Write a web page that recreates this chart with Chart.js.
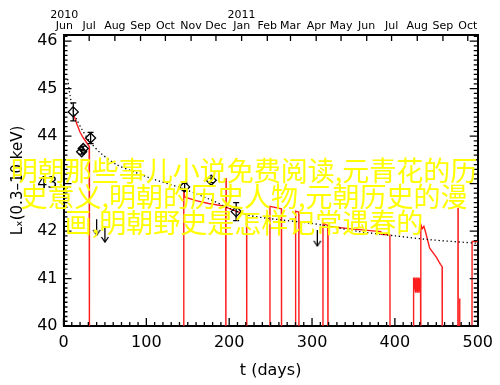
<!DOCTYPE html>
<html>
<head>
<meta charset="utf-8">
<script src="https://cdn.jsdelivr.net/npm/chart.js@4/dist/chart.umd.min.js"></script>
<style>
  html, body { margin: 0; padding: 0; background: #fff; }
  #wrap { position: relative; width: 500px; height: 385px; }
  #caption {
    position: absolute; left: 0; top: 157px; width: 488px;
    text-align: center; font-family: "Noto Sans CJK SC"; font-size: 27px;
    line-height: 26px; color: #ffff00;
  }
</style>
</head>
<body>
<div id="wrap">
  <canvas id="chart" width="500" height="385"></canvas>
  <div id="caption">明朝那些事儿小说免费阅读,元青花的历<br>史意义,明朝的历史人物,元朝历史的漫<br>画,明朝野史是怎样记常遇春的</div>
</div>
<script>
// dotted model curve
const modelDays = [5, 8, 11, 16, 22, 32, 45, 64, 85, 104, 143, 175, 204, 224, 260, 300, 357, 400, 441, 501];
const modelLum = [45.2, 44.85, 44.58, 44.35, 44.15, 43.88, 43.64, 43.4, 43.25, 43.12, 42.9, 42.68, 42.45, 42.33, 42.24, 42.16, 41.99, 41.9, 41.82, 41.74];

// red light curve (values below 40 are the drops to the floor)
const curveDays = [13, 16, 20, 24, 28, 31, 31.3,
  145, 145.2, 146, 160, 175, 195.8, 196, 196.2, 196.4, 208, 221, 221.2,
  249, 249.2, 263, 263.2, 280, 280.2, 284, 284.2,
  313, 313.2, 319, 319.2, 319.4, 350, 383, 383.5, 394, 394.2,
  422, 422.2, 423, 424, 425, 426, 427, 428, 429, 430, 431, 431.2,
  431.4, 433, 435, 437, 442, 450, 455, 457, 457.2,
  476, 476.2, 476.4, 478, 478.2, 478.4, 493, 493.2, 505];
const curveLum = [44.42, 44.26, 44.08, 43.96, 43.86, 43.78, 39,
  39, 42.9, 42.72, 42.64, 42.58, 42.52, 39, 43.12, 42.5, 42.42, 42.35, 39,
  39, 42.52, 42.47, 39, 39, 42.42, 42.4, 39,
  39, 42.16, 42.12, 39, 42.1, 42.04, 41.99, 41.93, 41.92, 39,
  39, 41.02, 40.7, 41.02, 40.7, 41.02, 40.7, 41.02, 40.7, 41.0, 40.7, 39,
  42.14, 42.05, 42.1, 41.98, 41.64, 41.45, 41.3, 41.25, 39,
  39, 42.49, 39, 39, 40.58, 39, 39, 41.78, 41.78];

// detections with error bars
const detDays = [11.8, 21.9, 23.8, 32.7, 146.2, 178.3, 208.4];
const detLum = [44.51, 43.67, 43.74, 43.96, 42.93, 43.07, 42.41];
const detErr = [0.19, 0.05, 0.05, 0.12, 0.08, 0.05, 0.19];

// upper limits
const limDays = [40, 50, 306.4];
const limLum = [42.25, 42.1, 42.02];

// axes
const xMajor = [0, 100, 200, 300, 400, 500];
const yMajor = [40, 41, 42, 43, 44, 45, 46];
const monthDays = [1, 31, 62, 93, 123, 154, 184, 215, 246, 274, 305, 335, 366, 396, 427, 458, 488];
const monthNames = ['Jun', 'Jul', 'Aug', 'Sep', 'Oct', 'Nov', 'Dec', 'Jan', 'Feb', 'Mar', 'Apr', 'May', 'Jun', 'Jul', 'Aug', 'Sep', 'Oct'];
const yearNames = ['2010', '', '', '', '', '', '', '2011', '', '', '', '', '', '', '', '', ''];

const LIM_LEN = 0.33;
const axisFont = { family: 'DejaVu Sans', size: 16 };

// open arrow head, tip at the centre of the image
const arrowHead = document.createElement('canvas');
arrowHead.width = 10;
arrowHead.height = 12;
(function () {
    const c = arrowHead.getContext('2d');
    c.strokeStyle = '#000';
    c.lineWidth = 1.3;
    c.beginPath();
    c.moveTo(1.5, 1);
    c.lineTo(5, 6);
    c.lineTo(8.5, 1);
    c.stroke();
})();

const errData = [];
detDays.forEach((d, i) => {
    errData.push({ x: d, y: detLum[i] - detErr[i] });
    errData.push({ x: d, y: detLum[i] + detErr[i] });
    errData.push({ x: d, y: null });
});
const limData = [];
limDays.forEach((d, i) => {
    limData.push({ x: d, y: limLum[i] });
    limData.push({ x: d, y: limLum[i] - LIM_LEN });
    limData.push({ x: d, y: null });
});

const innerTicks = {
    id: 'innerTicks',
    afterDraw(chart) {
        const { ctx, chartArea: a, scales } = chart;
        ctx.save();
        ctx.strokeStyle = '#000';
        ctx.lineWidth = 1.3;
        ctx.beginPath();
        for (let v = 0; v <= 500; v += 10) {
            const px = scales.x.getPixelForValue(v);
            const len = v % 100 === 0 ? 8 : 4;
            ctx.moveTo(px, a.bottom);
            ctx.lineTo(px, a.bottom - len);
        }
        monthDays.forEach(d => {
            const px = scales.x2.getPixelForValue(d);
            ctx.moveTo(px, a.top);
            ctx.lineTo(px, a.top + 6);
        });
        for (let i = 0; i <= 61; i++) {
            const py = scales.y.getPixelForValue(40 + i / 10);
            const len = i % 10 === 0 ? 8 : 4;
            ctx.moveTo(a.left, py);
            ctx.lineTo(a.left + len, py);
            ctx.moveTo(a.right, py);
            ctx.lineTo(a.right - len, py);
        }
        ctx.stroke();
        ctx.restore();
    }
};

new Chart(document.getElementById('chart'), {
    type: 'line',
    data: {
        datasets: [
            {
                label: 'detections',
                data: detDays.map((d, i) => ({ x: d, y: detLum[i] })),
                showLine: false,
                pointStyle: 'rectRot',
                pointRadius: 5,
                pointBorderWidth: 1.3,
                pointBorderColor: '#000',
                pointBackgroundColor: 'rgba(0,0,0,0)',
            },
            {
                label: 'errors',
                data: errData,
                borderColor: '#000',
                borderWidth: 1.3,
                spanGaps: false,
                pointStyle: 'line',
                pointRadius: 3,
                pointBorderWidth: 1.3,
                pointBorderColor: '#000',
            },
            {
                label: 'limits',
                data: limData,
                borderColor: '#000',
                borderWidth: 1.3,
                spanGaps: false,
                pointRadius: 0,
            },
            {
                label: 'limit heads',
                data: limDays.map((d, i) => ({ x: d, y: limLum[i] - LIM_LEN })),
                showLine: false,
                pointStyle: arrowHead,
                pointRadius: 5,
            },
            {
                label: 'model',
                data: modelDays.map((d, i) => ({ x: d, y: modelLum[i] })),
                borderColor: '#000',
                borderWidth: 1.3,
                borderDash: [1.3, 2.7],
                pointRadius: 0,
                tension: 0.3,
            },
            {
                label: 'light curve',
                data: curveDays.map((d, i) => ({ x: d, y: curveLum[i] })),
                borderColor: '#ff1e1e',
                borderWidth: 1.4,
                pointRadius: 0,
                tension: 0,
            },
        ],
    },
    options: {
        responsive: false,
        animation: false,
        layout: { padding: 0 },
        plugins: { legend: { display: false }, tooltip: { enabled: false } },
        scales: {
            x: {
                type: 'linear',
                position: 'bottom',
                min: 0,
                max: 500,
                afterBuildTicks: s => { s.ticks = xMajor.map(v => ({ value: v })); },
                afterFit: s => { s.height = 59; },
                grid: { display: false, drawTicks: false },
                border: { display: true, color: '#000', width: 2 },
                ticks: { font: axisFont, color: '#000', padding: 7, maxRotation: 0 },
                title: {
                    display: true,
                    text: 't (days)',
                    font: axisFont,
                    color: '#000',
                    padding: { top: 0, bottom: 5 },
                },
            },
            x2: {
                type: 'linear',
                position: 'top',
                min: 0,
                max: 500,
                afterBuildTicks: s => { s.ticks = monthDays.map(v => ({ value: v })); },
                afterFit: s => { s.height = 35; },
                grid: { display: false, drawTicks: false },
                border: { display: true, color: '#000', width: 2 },
                ticks: {
                    font: { family: 'DejaVu Sans', size: 11, lineHeight: 1.0 },
                    color: '#000',
                    padding: 3.5,
                    autoSkip: false,
                    maxRotation: 0,
                    callback: (v, i) => [yearNames[i], monthNames[i]],
                },
            },
            y: {
                type: 'linear',
                position: 'left',
                min: 40,
                max: 46.13,
                afterBuildTicks: s => { s.ticks = yMajor.map(v => ({ value: v })); },
                afterFit: s => { s.width = 63.5; },
                grid: { display: false, drawTicks: false },
                border: { display: true, color: '#000', width: 2 },
                ticks: { font: axisFont, color: '#000', padding: 6 },
                title: {
                    display: true,
                    text: 'Lₓ(0.3–10 keV)',
                    font: { family: 'DejaVu Sans', size: 15 },
                    color: '#000',
                    padding: { top: 9, bottom: 0 },
                },
            },
            y2: {
                type: 'linear',
                position: 'right',
                min: 40,
                max: 46.13,
                afterFit: s => { s.width = 21; },
                grid: { display: false, drawTicks: false },
                border: { display: true, color: '#000', width: 2 },
                ticks: { display: false },
            },
        },
    },
    plugins: [innerTicks],
});
</script>
</body>
</html>
